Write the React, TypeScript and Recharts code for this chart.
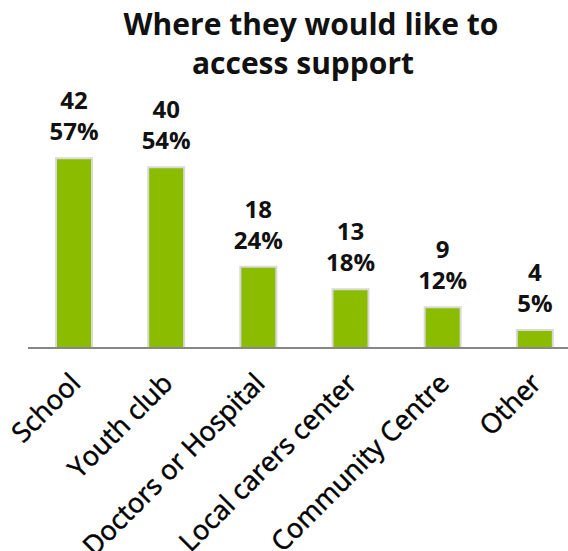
import React from "react";
import { BarChart, Bar, XAxis, YAxis, LabelList } from "recharts";

const categories = [
  "School",
  "Youth club",
  "Doctors or Hospital",
  "Local carers center",
  "Community Centre",
  "Other",
];
const counts = [42, 40, 18, 13, 9, 4];
const percents = ["57%", "54%", "24%", "18%", "12%", "5%"];

const data = categories.map((name, i) => ({ name, count: counts[i] }));

const FONT = "'Open Sans', sans-serif";

const CategoryTick = (props: any) => {
  const { x, y, payload } = props;
  return (
    <text
      transform={`translate(${x + 8},${y + 29}) rotate(-45)`}
      textAnchor="end"
      fontFamily={FONT}
      fontSize={27}
      fill="#000"
      stroke="#000"
      strokeWidth={0.5}
    >
      {payload.value}
    </text>
  );
};

const ValueLabel = (props: any) => {
  const { x, y, width, value, index } = props;
  const cx = x + width / 2;
  return (
    <g fontFamily={FONT} fontWeight={700} fontSize={24} fill="#111" textAnchor="middle">
      <text x={cx} y={y - 49}>{value}</text>
      <text x={cx} y={y - 18}>{percents[index]}</text>
    </g>
  );
};

export default function App() {
  return (
    <div
      style={{
        position: "absolute",
        left: 0,
        top: 0,
        width: 568,
        height: 551,
        overflow: "hidden",
        background: "#fff",
      }}
    >
      <svg
        width={568}
        height={100}
        style={{ position: "absolute", left: 0, top: 0 }}
      >
        <g fontFamily={FONT} fontWeight={700} fontSize={30} fill="#111" textAnchor="middle">
          <text x={311} y={35}>Where they would like to</text>
          <text x={303} y={74}>access support</text>
        </g>
      </svg>
      <BarChart
        width={600}
        height={551}
        data={data}
        margin={{ top: 122, right: 19, bottom: 0, left: 28 }}
      >
        <XAxis
          dataKey="name"
          height={203}
          interval={0}
          tickLine={false}
          axisLine={{ stroke: "#878787", strokeWidth: 2 }}
          tick={<CategoryTick />}
        />
        <YAxis hide domain={[0, 50]} />
        <Bar
          dataKey="count"
          fill="#8BBC00"
          stroke="#D9D9D9"
          strokeWidth={2}
          barSize={36}
          isAnimationActive={false}
        >
          <LabelList dataKey="count" content={<ValueLabel />} />
        </Bar>
      </BarChart>
    </div>
  );
}
